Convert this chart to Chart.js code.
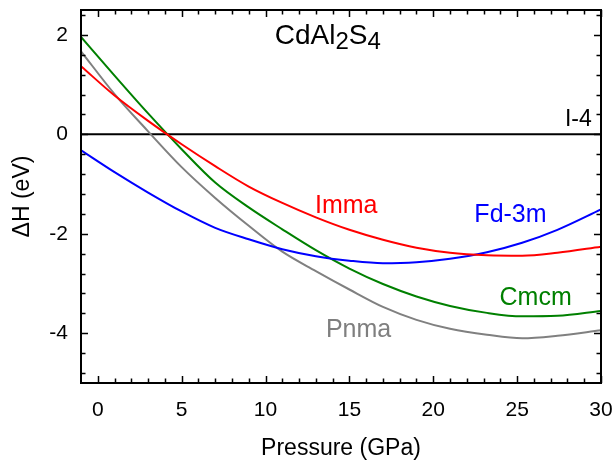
<!DOCTYPE html>
<html>
<head>
<meta charset="utf-8">
<title>CdAl2S4 enthalpy</title>
<script src="https://cdn.jsdelivr.net/npm/chart.js@4.4.1/dist/chart.umd.min.js"></script>
<style>
  html, body { margin: 0; padding: 0; background: #fff; }
  #wrap { width: 616px; height: 467px; }
</style>
</head>
<body>
<div id="wrap"><canvas id="enthalpyChart" width="616" height="467"></canvas></div>
<script>
// Enthalpy of each phase relative to I-4, vs pressure
const pressure = [-1, 1, 3, 5, 7, 9, 11, 13, 15, 17, 19, 21, 23.2, 25.3, 27.4, 30];
const imma  = [1.37, 0.78, 0.27, -0.20, -0.64, -1.05, -1.38, -1.67, -1.92, -2.12, -2.28, -2.38, -2.43, -2.44, -2.38, -2.26];
const fd3m  = [-0.32, -0.76, -1.17, -1.55, -1.88, -2.11, -2.31, -2.45, -2.54, -2.59, -2.57, -2.50, -2.37, -2.18, -1.92, -1.51];
const cmcm  = [1.96, 1.18, 0.42, -0.30, -0.97, -1.47, -1.91, -2.33, -2.70, -3.01, -3.26, -3.45, -3.59, -3.66, -3.65, -3.55];
const pnma  = [1.67, 0.81, 0.06, -0.66, -1.28, -1.84, -2.36, -2.75, -3.12, -3.47, -3.73, -3.91, -4.03, -4.10, -4.05, -3.94];
const reference = [0, 0];   // I-4 is the zero line
const referenceP = [-1, 30];

const xTicks = [0, 5, 10, 15, 20, 25, 30];
const yTicks = [-4, -2, 0, 2];

Chart.defaults.font.family = "'Liberation Sans', Arial, Helvetica, sans-serif";
Chart.defaults.color = '#000';

function toPoints(xs, ys) {
  return xs.map(function(x, i) { return { x: x, y: ys[i] }; });
}

function lineSet(label, xs, ys, color) {
  return {
    label: label,
    data: toPoints(xs, ys),
    borderColor: color,
    borderWidth: 2,
    pointRadius: 0,
    cubicInterpolationMode: 'monotone',
    fill: false
  };
}

// keep the plot box where the layout padding puts it
function noScalePadding(scale) {
  scale.paddingLeft = 0;
  scale.paddingRight = 0;
  scale.paddingTop = 0;
  scale.paddingBottom = 0;
}

// phase names placed next to their curves, in data units
const phaseLabels = [
  { text: 'Imma',  x: 12.95, y: -1.58, color: '#ff0000', size: 25 },
  { text: 'Fd-3m', x: 22.45, y: -1.77, color: '#0000ff', size: 25 },
  { text: 'Cmcm',  x: 23.95, y: -3.43, color: '#008000', size: 25 },
  { text: 'Pnma',  x: 13.6,  y: -4.08, color: '#7f7f7f', size: 25 },
  { text: 'I-4',   x: 29.45, y: 0.17,  color: '#000000', size: 23, align: 'right' }
];

// frame with inward ticks on all four sides
const framePlugin = {
  id: 'frame',
  afterDraw: function(chart) {
    const ctx = chart.ctx;
    const a = chart.chartArea;
    const xs = chart.scales.x, ys = chart.scales.y;
    ctx.save();
    ctx.strokeStyle = '#000';
    ctx.lineWidth = 2;
    ctx.strokeRect(a.left, a.top, a.right - a.left, a.bottom - a.top);

    ctx.lineWidth = 1.5;
    ctx.beginPath();
    for (let p = 0; p <= 30; p++) {
      const px = Math.round(xs.getPixelForValue(p)) + 0.5;
      const len = (p % 5 === 0) ? 7 : 4.5;
      ctx.moveTo(px, a.bottom); ctx.lineTo(px, a.bottom - len);
      ctx.moveTo(px, a.top);    ctx.lineTo(px, a.top + len);
    }
    for (let k = -12; k <= 6; k++) {
      const v = k * 0.4;
      const py = Math.round(ys.getPixelForValue(v)) + 0.5;
      const len = (k % 5 === 0) ? 7 : 4.5;
      ctx.moveTo(a.left, py);  ctx.lineTo(a.left + len, py);
      ctx.moveTo(a.right, py); ctx.lineTo(a.right - len, py);
    }
    ctx.stroke();
    ctx.restore();
  }
};

const labelPlugin = {
  id: 'phaseLabels',
  afterDatasetsDraw: function(chart) {
    const ctx = chart.ctx;
    const xs = chart.scales.x, ys = chart.scales.y;
    const family = Chart.defaults.font.family;
    ctx.save();
    ctx.textBaseline = 'alphabetic';
    phaseLabels.forEach(function(l) {
      ctx.font = l.size + 'px ' + family;
      ctx.fillStyle = l.color;
      ctx.textAlign = l.align || 'left';
      ctx.fillText(l.text, xs.getPixelForValue(l.x), ys.getPixelForValue(l.y));
    });

    // compound name with subscripts
    let cx = xs.getPixelForValue(10.55);
    const cy = ys.getPixelForValue(1.81);
    ctx.fillStyle = '#000';
    ctx.textAlign = 'left';
    [['CdAl', 28, 0], ['2', 24, 5], ['S', 28, 0], ['4', 24, 5]].forEach(function(part) {
      ctx.font = part[1] + 'px ' + family;
      ctx.fillText(part[0], cx, cy + part[2]);
      cx += ctx.measureText(part[0]).width;
    });
    ctx.restore();
  }
};

function createEnthalpyChart(ctx) {
  new Chart(ctx, {
    type: 'line',
    data: {
      datasets: [
        lineSet('Imma', pressure, imma, '#ff0000'),
        lineSet('Fd-3m', pressure, fd3m, '#0000ff'),
        lineSet('Cmcm', pressure, cmcm, '#008000'),
        lineSet('Pnma', pressure, pnma, '#808080'),
        lineSet('I-4', referenceP, reference, '#000000')
      ]
    },
    options: {
      responsive: false,
      animation: false,
      layout: { padding: { top: 10, right: 15, left: 0, bottom: 0 } },
      plugins: {
        legend: { display: false },
        tooltip: { enabled: false }
      },
      scales: {
        x: {
          type: 'linear',
          min: -1,
          max: 30,
          afterBuildTicks: function(scale) {
            scale.ticks = xTicks.map(function(v) { return { value: v }; });
          },
          afterFit: function(scale) {
            scale.height = 84;
            noScalePadding(scale);
          },
          grid: { display: false, drawTicks: false },
          border: { display: false },
          ticks: { font: { size: 21 }, padding: 15, maxRotation: 0 },
          title: {
            display: true,
            text: 'Pressure (GPa)',
            font: { size: 23 },
            padding: { top: 0, bottom: 5 }
          }
        },
        y: {
          type: 'linear',
          min: -5,
          max: 2.5,
          afterBuildTicks: function(scale) {
            scale.ticks = yTicks.map(function(v) { return { value: v }; });
          },
          afterFit: function(scale) {
            scale.width = 81;
            noScalePadding(scale);
          },
          grid: { display: false, drawTicks: false },
          border: { display: false },
          ticks: { font: { size: 21 }, padding: 13 },
          title: {
            display: true,
            text: '\u0394H (eV)',
            font: { size: 23 },
            padding: { top: 9, bottom: 0 }
          }
        }
      }
    },
    plugins: [framePlugin, labelPlugin]
  });
}

createEnthalpyChart(document.getElementById('enthalpyChart'));
</script>
</body>
</html>
